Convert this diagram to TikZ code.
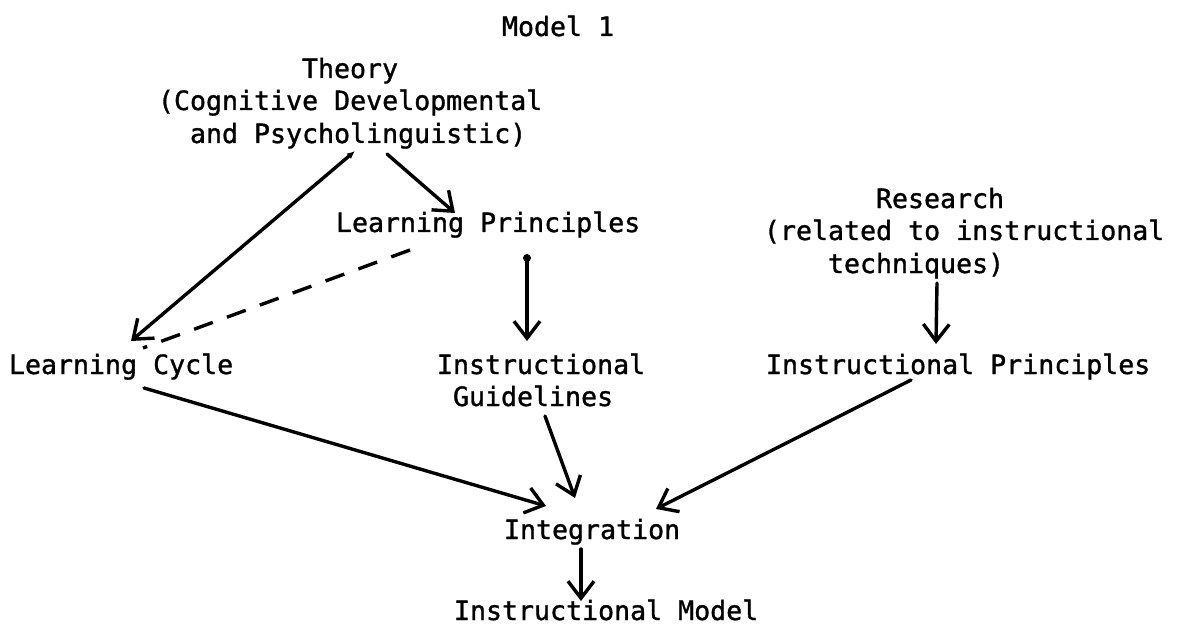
\documentclass[tikz,border=0pt]{standalone}
\usepackage{fontspec}
\newfontfamily\tw[FakeBold=1.2]{DejaVu Sans Mono}
\usetikzlibrary{arrows.meta}
\tikzset{
  lbl/.style={anchor=base west, inner sep=0pt, outer sep=0pt, font=\tw\fontsize{13.3}{16.25}\selectfont},
  arr/.style={line width=1.7pt, line cap=round, -{Straight Barb[length=8.5pt,width=13pt]}},
  dsh/.style={line width=1.7pt, dash pattern=on 10pt off 7.5pt}
}
\begin{document}
\begin{tikzpicture}[x=0.5pt,y=-0.5pt]
\useasboundingbox[fill=white] (0,0) rectangle (1179,626);
% texts
\node[lbl] (title) at (502,36) {Model 1};
\node[lbl] (th1) at (302,78) {Theory};
\node[lbl] (th2) at (158,110) {(Cognitive Developmental};
\node[lbl] (th3) at (190,143) {and Psycholinguistic)};
\node[lbl] (lp) at (336,232) {Learning Principles};
\node[lbl] (rs1) at (876,208) {Research};
\node[lbl] (rs2) at (764,240) {(related to instructional};
\node[lbl] (rs3) at (828,273) {techniques)};
\node[lbl] (lc) at (9,374) {Learning Cycle};
\node[lbl] (ig1) at (437,374) {Instructional};
\node[lbl] (ig2) at (453,406) {Guidelines};
\node[lbl] (ip) at (766,374) {Instructional Principles};
\node[lbl] (int) at (504,539) {Integration};
\node[lbl] (im) at (454,620) {Instructional Model};
% connector end points
\coordinate (thA) at (355,151);
\coordinate (lcA) at (131,341);
\coordinate (thB) at (387,154);
\coordinate (lpA) at (455,213);
\coordinate (lpB) at (410,250);
\coordinate (lcB) at (143,348);
\coordinate (lpC) at (527,258);
\coordinate (igA) at (527,341);
\coordinate (rsA) at (937,283);
\coordinate (ipA) at (936,344);
\coordinate (lcC) at (144,388);
\coordinate (intA) at (546,506);
\coordinate (igB) at (545,416);
\coordinate (intB) at (575,498);
\coordinate (ipB) at (911,380);
\coordinate (intC) at (656,509);
\coordinate (intD) at (581,549);
\coordinate (imA) at (581,601);
% connectors
\draw[arr, {Latex[length=4pt,width=3.5pt]}-{Straight Barb[length=8.5pt,width=13pt]}] (thA) -- (lcA);
\draw[arr] (thB) -- (lpA);
\draw[dsh] (lpB) -- (lcB);
\draw[arr] (lpC) -- (igA);
\fill (lpC) circle (2pt);
\draw[arr] (rsA) -- (ipA);
\draw[arr] (lcC) -- (intA);
\draw[arr] (igB) -- (intB);
\draw[arr] (ipB) -- (intC);
\draw[arr] (intD) -- (imA);
\end{tikzpicture}
\end{document}
